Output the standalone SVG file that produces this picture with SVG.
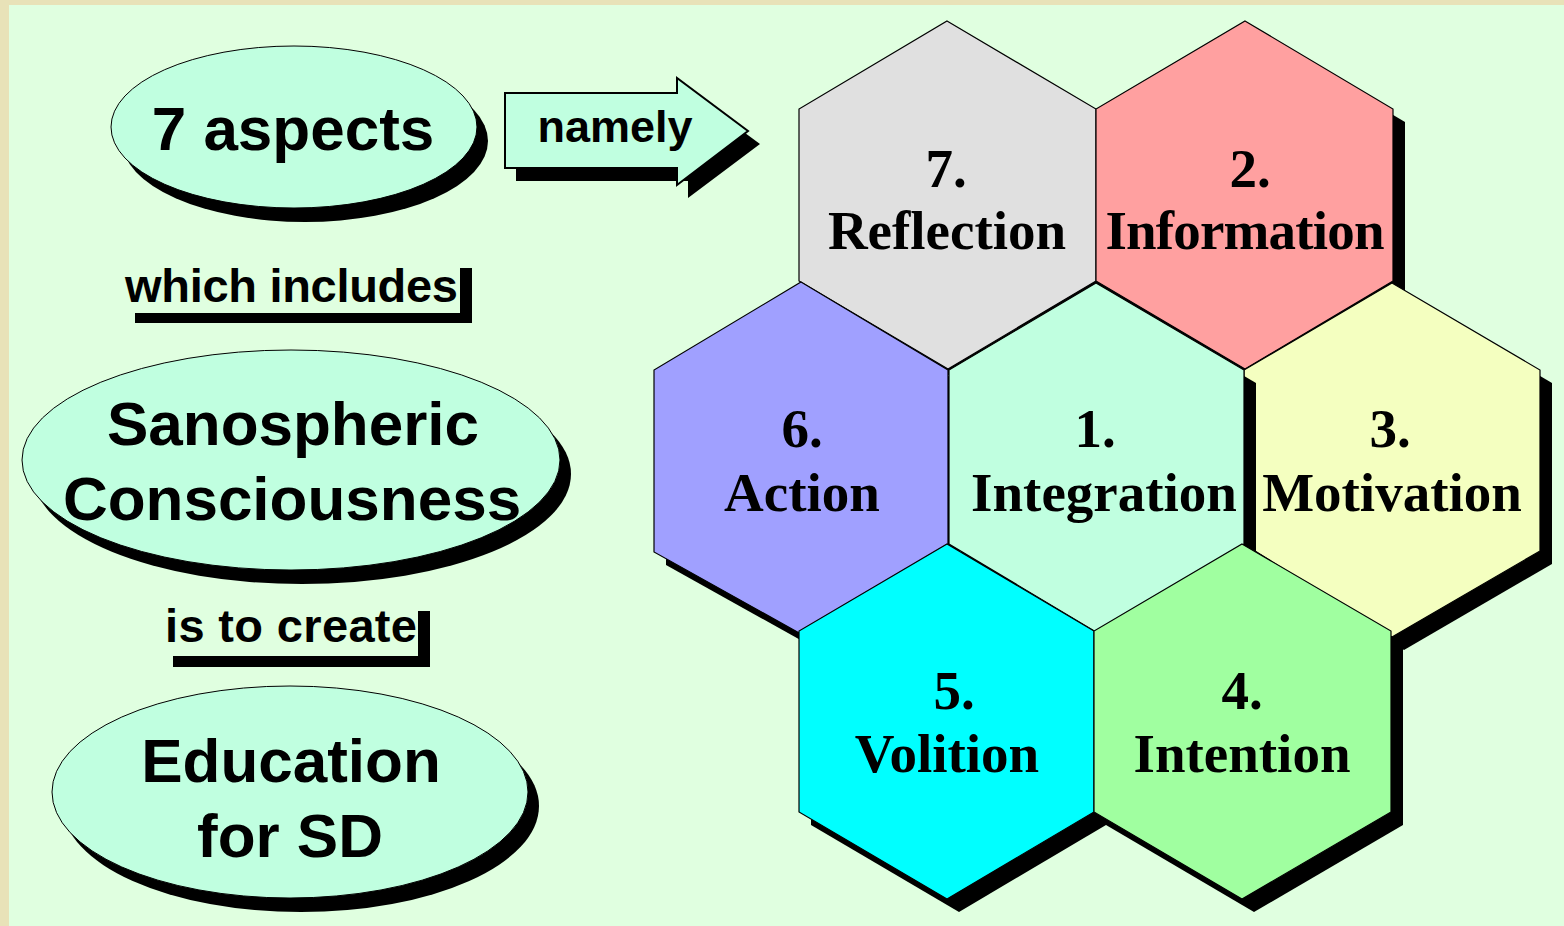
<svg xmlns="http://www.w3.org/2000/svg" width="1564" height="926" viewBox="0 0 1564 926">
<defs>
<style>
.hex{stroke:#000;stroke-width:1.2;stroke-linejoin:miter}
.sh{fill:#000;stroke:none}
.ell{fill:#c0ffe0;stroke:#000;stroke-width:1}
.ht{font-family:"Liberation Serif","Times New Roman",serif;font-weight:bold;font-size:55px;fill:#000;text-anchor:middle}
.et{font-family:"Liberation Sans",Arial,sans-serif;font-weight:bold;font-size:62px;fill:#000;text-anchor:middle}
.lt{font-family:"Liberation Sans",Arial,sans-serif;font-weight:bold;font-size:47px;fill:#000}
</style>
</defs>
<rect x="0" y="0" width="1564" height="926" fill="#e0ffe0"/>
<rect x="0" y="0" width="1564" height="5" fill="#e8e2b8"/>
<rect x="0" y="0" width="9" height="926" fill="#e8e2b8"/>

<g id="ellipse-aspects">
<ellipse cx="305" cy="141" rx="183" ry="81" class="sh"/>
<ellipse cx="294" cy="127" rx="183" ry="81" class="ell"/>
<text x="293" y="150" class="et">7 aspects</text>
</g>

<g id="label-which-includes">
<polygon points="460,268 472,268 472,323 135,323 135,313 460,313" fill="#000"/>
<text x="125" y="302" class="lt" textLength="333">which includes</text>
</g>

<g id="ellipse-sanospheric">
<ellipse cx="302" cy="474" rx="269" ry="110" class="sh"/>
<ellipse cx="291" cy="460" rx="269" ry="110" class="ell"/>
<text x="293" y="445" class="et">Sanospheric</text>
<text x="292" y="520" class="et">Consciousness</text>
</g>

<g id="label-is-to-create">
<polygon points="418,611 430,611 430,667 173,667 173,656 418,656" fill="#000"/>
<text x="165" y="642" class="lt" textLength="252">is to create</text>
</g>

<g id="ellipse-education">
<ellipse cx="301" cy="806" rx="238" ry="106" class="sh"/>
<ellipse cx="290" cy="792" rx="238" ry="106" class="ell"/>
<text x="291" y="782" class="et">Education</text>
<text x="290" y="857" class="et">for SD</text>
</g>

<g id="connectors">
<g id="arrow-namely">
<polygon points="516,106 688,106 688,91 760,144 688,198 688,181 516,181" fill="#000"/>
<polygon points="505,93 677,93 677,78 748,131 677,185 677,168 505,168" fill="#c0ffe0" stroke="#000" stroke-width="2"/>
<text x="615" y="142" text-anchor="middle" font-family="Liberation Sans, Arial, sans-serif" font-weight="bold" font-size="45px" fill="#000">namely</text>
</g>
</g>

<g id="hex-reflection">
<polygon class="sh" transform="translate(12,13)" points="947,21 1096,109 1096,281 948,369 799,281 799,109"/>
<polygon class="hex" fill="#e0e0e0" points="947,21 1096,109 1096,281 948,369 799,281 799,109"/>
<text x="946" y="187" class="ht">7.</text>
<text x="947" y="249" class="ht">Reflection</text>
</g>

<g id="hex-information">
<polygon class="sh" transform="translate(12,13)" points="1245,21 1393,109 1393,281 1245,369 1096,281 1096,109"/>
<polygon class="hex" fill="#ffa0a0" points="1245,21 1393,109 1393,281 1245,369 1096,281 1096,109"/>
<text x="1250" y="187" class="ht">2.</text>
<text x="1245" y="249" class="ht" textLength="279">Information</text>
</g>

<g id="hex-motivation">
<polygon class="sh" transform="translate(12,13)" points="1392,283 1540,370 1540,551 1392,637 1244,544 1244,370"/>
<polygon class="hex" fill="#f4ffc0" points="1392,283 1540,370 1540,551 1392,637 1244,544 1244,370"/>
<text x="1390" y="447" class="ht">3.</text>
<text x="1392" y="511" class="ht">Motivation</text>
</g>

<g id="hex-action">
<polygon class="sh" transform="translate(12,13)" points="801,282 948,370 948,544 801,634 654,552 654,370"/>
<polygon class="hex" fill="#a0a0ff" points="801,282 948,370 948,544 801,634 654,552 654,370"/>
<text x="802" y="447" class="ht">6.</text>
<text x="802" y="511" class="ht">Action</text>
</g>

<g id="hex-integration">
<polygon class="sh" transform="translate(12,13)" points="1096,283 1244,370 1244,544 1096,632 949,544 949,370"/>
<polygon class="hex" fill="#c0ffe0" points="1096,283 1244,370 1244,544 1096,632 949,544 949,370"/>
<text x="1095" y="447" class="ht">1.</text>
<text x="1104" y="511" class="ht">Integration</text>
</g>

<g id="hex-volition">
<polygon class="sh" transform="translate(12,13)" points="947,544 1094,631 1094,812 947,899 799,812 799,631"/>
<polygon class="hex" fill="#00ffff" points="947,544 1094,631 1094,812 947,899 799,812 799,631"/>
<text x="954" y="709" class="ht">5.</text>
<text x="947" y="772" class="ht">Volition</text>
</g>

<g id="hex-intention">
<polygon class="sh" transform="translate(12,13)" points="1242,544 1391,631 1391,812 1242,899 1094,812 1094,631"/>
<polygon class="hex" fill="#a0ffa0" points="1242,544 1391,631 1391,812 1242,899 1094,812 1094,631"/>
<text x="1242" y="709" class="ht">4.</text>
<text x="1242" y="772" class="ht">Intention</text>
</g>
</svg>
